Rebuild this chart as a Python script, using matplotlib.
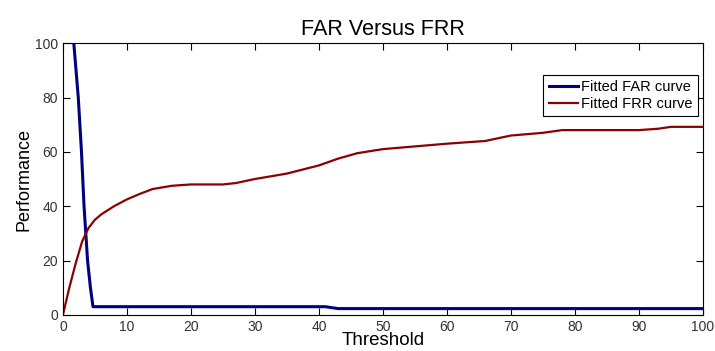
import numpy as np
import matplotlib
matplotlib.use("Agg")
import matplotlib.pyplot as plt

plt.rcParams['font.family'] = ['Liberation Sans', 'DejaVu Sans']

# fitted FAR curve
far_x = [1.7, 2.4, 2.9, 3.3, 3.85, 4.3, 4.7, 10, 20, 30, 41, 43, 50, 60, 70, 80, 90, 100]
far_y = [100, 80, 60, 40, 20, 10, 3.0, 3.0, 3.0, 3.0, 3.0, 2.3, 2.3, 2.3, 2.3, 2.3, 2.3, 2.3]

# fitted FRR curve
frr_x = [0, 1, 2, 3, 4, 5, 6, 8, 10, 12, 14, 17, 20, 25, 27, 30, 35, 40, 43, 46, 50, 55, 60, 66, 70, 75, 78, 85, 90, 93, 95, 100]
frr_y = [0, 10, 19, 27, 32, 35, 37, 40, 42.5, 44.5, 46.3, 47.5, 48, 48, 48.5, 50, 52, 55, 57.5, 59.5, 61, 62, 63, 64, 66, 67, 68, 68, 68, 68.5, 69.2, 69.2]

fig = plt.figure(figsize=(7.15, 3.51), dpi=100)
ax = fig.add_axes([0.088, 0.103, 0.895, 0.774])

ax.plot(far_x, far_y, color='#000080', lw=2.2, label='Fitted FAR curve')
ax.plot(frr_x, frr_y, color='#8b0000', lw=1.6, label='Fitted FRR curve')

ax.set_xlim(0, 100)
ax.set_ylim(0, 100)
ax.set_xticks(np.arange(0, 101, 10))
ax.set_yticks(np.arange(0, 101, 20))
ax.tick_params(direction='in', top=True, right=True, labelsize=10, labelcolor='#333333', length=5)
ax.set_title('FAR Versus FRR', fontsize=15.5, pad=6)
ax.set_xlabel('Threshold', fontsize=13.5, labelpad=-1)
ax.set_ylabel('Performance', fontsize=13, labelpad=2)

leg = ax.legend(loc='upper right', bbox_to_anchor=(0.997, 0.895), fontsize=10.5, fancybox=False,
                edgecolor='black', framealpha=1, handlelength=2.0, handletextpad=0.25,
                borderpad=0.35, labelspacing=0.2, borderaxespad=0.2)
leg.get_frame().set_linewidth(0.8)

fig.savefig('out.png', dpi=100)
